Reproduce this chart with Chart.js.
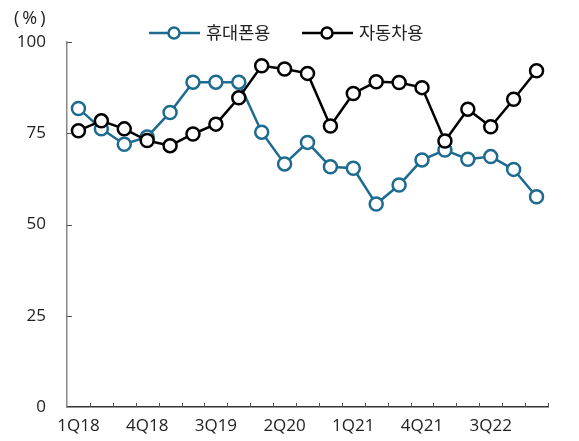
<!DOCTYPE html>
<html>
<head>
<meta charset="utf-8">
<script src="https://cdn.jsdelivr.net/npm/chart.js@4/dist/chart.umd.min.js"></script>
<style>
  html, body { margin: 0; padding: 0; background: #fff; }
  #wrap { width: 579px; height: 441px; }
</style>
</head>
<body>
<div id="wrap"><canvas id="chart" width="579" height="441"></canvas></div>
<script>
const quarters = ['1Q18','2Q18','3Q18','4Q18','1Q19','2Q19','3Q19','4Q19','1Q20','2Q20','3Q20','4Q20',
                  '1Q21','2Q21','3Q21','4Q21','1Q22','2Q22','3Q22','4Q22','1Q23'];
const handset = [81.8, 76.2, 72.0, 74.0, 80.7, 89.0, 89.0, 89.0, 75.3, 66.6, 72.5,
                 65.8, 65.4, 55.6, 60.8, 67.7, 70.4, 67.9, 68.6, 65.1, 57.6];
const auto = [75.7, 78.4, 76.2, 73.0, 71.6, 74.8, 77.5, 84.7, 93.5, 92.6, 91.4,
              77.0, 85.9, 89.1, 88.9, 87.5, 72.9, 81.6, 76.8, 84.3, 92.1];
const yTicks = [0, 25, 50, 75, 100];
const seriesNames = ['휴대폰용', '자동차용'];

const BLUE = '#1d6b8f';
const FONT = "'Open Sans', 'Noto Sans CJK KR', sans-serif";

// little inward tick marks + the (%) unit + legend with line/circle markers
const extras = {
  id: 'extras',
  afterDraw(chart) {
    const ctx = chart.ctx;
    const x = chart.scales.x, y = chart.scales.y;
    ctx.save();
    ctx.strokeStyle = '#555';
    ctx.lineWidth = 1;
    for (let i = 1; i <= quarters.length; i++) {
      const px = Math.round(x.getPixelForValue(i - 0.5)) + 0.5;
      ctx.beginPath();
      ctx.moveTo(px, x.top);
      ctx.lineTo(px, x.top - 4);
      ctx.stroke();
    }
    yTicks.slice(1).forEach(v => {
      const py = Math.round(y.getPixelForValue(v)) + 0.5;
      ctx.beginPath();
      ctx.moveTo(y.right, py);
      ctx.lineTo(y.right + 5, py);
      ctx.stroke();
    });

    ctx.fillStyle = '#222';
    ctx.font = '18px ' + FONT;
    ctx.textBaseline = 'middle';
    ctx.textAlign = 'left';
    ctx.fillText('( % )'.replace(/ /g, '\u2009'), 14, 19);

    // legend
    const items = [
      { name: seriesNames[0], color: BLUE, x0: 149 },
      { name: seriesNames[1], color: '#000', x0: 302 }
    ];
    const ly = 33;
    ctx.font = '17.5px ' + FONT;
    items.forEach(it => {
      ctx.strokeStyle = it.color;
      ctx.lineWidth = 2.5;
      ctx.beginPath();
      ctx.moveTo(it.x0, ly);
      ctx.lineTo(it.x0 + 51, ly);
      ctx.stroke();
      ctx.beginPath();
      ctx.arc(it.x0 + 25, ly, 5.5, 0, Math.PI * 2);
      ctx.fillStyle = '#fff';
      ctx.fill();
      ctx.stroke();
      ctx.fillStyle = '#222';
      ctx.fillText(it.name, it.x0 + 57, ly + 1);
    });
    ctx.restore();
  }
};

new Chart(document.getElementById('chart'), {
  type: 'line',
  data: {
    labels: quarters,
    datasets: [
      {
        label: seriesNames[0],
        data: handset,
        borderColor: BLUE,
        backgroundColor: '#fff',
        borderWidth: 2.5,
        pointRadius: 6.5,
        pointBorderWidth: 2.5,
        pointBackgroundColor: '#fff',
        pointBorderColor: BLUE,
        tension: 0,
        order: 1
      },
      {
        label: seriesNames[1],
        data: auto,
        borderColor: '#000',
        backgroundColor: '#fff',
        borderWidth: 2.5,
        pointRadius: 6.5,
        pointBorderWidth: 2.5,
        pointBackgroundColor: '#fff',
        pointBorderColor: '#000',
        tension: 0,
        order: 0
      }
    ]
  },
  options: {
    responsive: false,
    animation: false,
    layout: { padding: { top: 42, right: 31, left: 0, bottom: 0 } },
    plugins: { legend: { display: false }, tooltip: { enabled: false } },
    scales: {
      x: {
        offset: true,
        grid: { display: false, drawTicks: false },
        border: { display: true, color: '#333', width: 1.5 },
        ticks: {
          autoSkip: false,
          maxRotation: 0,
          padding: 9,
          color: '#222',
          font: { family: FONT, size: 17 },
          callback: (v, i) => (i % 3 === 0 ? quarters[i] : '')
        },
        afterFit: s => { s.height = 34; }
      },
      y: {
        min: 0,
        max: 100,
        grid: { display: false, drawTicks: false },
        border: { display: true, color: '#888', width: 1.5 },
        ticks: {
          stepSize: 25,
          padding: 21,
          color: '#222',
          font: { family: FONT, size: 17 }
        },
        afterFit: s => { s.width = 67; }
      }
    }
  },
  plugins: [extras]
});
</script>
</body>
</html>
